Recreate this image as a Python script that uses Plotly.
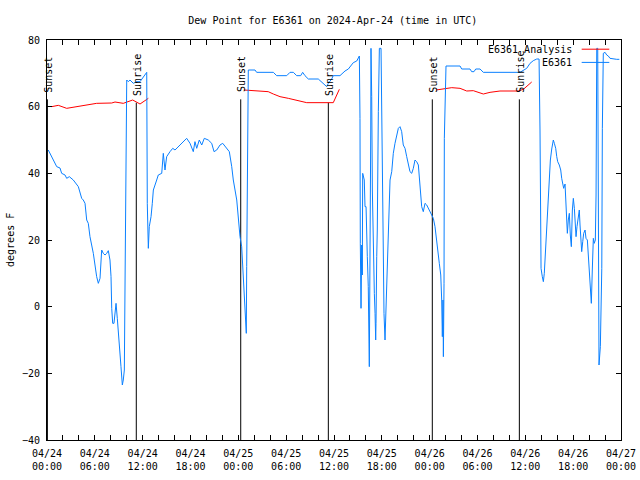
import pandas as pd
import plotly.graph_objects as go

START = pd.Timestamp("2024-04-24 00:00")

# ---- data (hours since 2024-04-24 00:00 UTC, degrees F) ----
obs_hours = [0.16, 0.59, 1.22, 1.63, 1.84, 2.26, 2.47, 2.80, 3.30, 3.93, 4.35, 4.55, 4.77, 4.98, 5.18, 5.39,
             5.81, 6.23, 6.44, 6.65, 6.86, 7.06, 7.28, 7.49, 7.69, 7.90, 8.03, 8.12, 8.24, 8.40, 8.66, 8.82,
             8.99, 9.16, 9.28, 9.45, 9.57, 9.70, 9.78, 9.87, 10.00, 10.20, 10.41, 10.83, 11.25, 11.67, 12.08,
             12.51, 12.58, 12.71, 12.83, 13.05, 13.21, 13.34, 13.76, 13.96, 14.39, 14.59, 14.80, 15.01, 15.43,
             15.77, 16.06, 16.68, 17.31, 17.52, 17.94, 18.35, 18.56, 18.78, 19.10, 19.41, 19.73, 20.23, 20.66,
             20.95, 21.29, 21.70, 22.04, 22.54, 22.87, 23.17, 23.37, 23.80, 24.00, 24.21, 24.42, 24.62, 24.84,
             24.92, 25.00, 25.05, 25.13, 25.25, 26.09, 26.30, 28.39, 28.81, 30.07, 30.48, 30.90, 31.32, 31.82,
             32.07, 32.36, 32.78, 34.03, 35.09, 35.29, 35.71, 35.91, 36.75, 37.38, 37.80, 38.42, 38.85, 39.18,
             39.26, 39.30, 39.39, 39.48, 39.55, 39.60, 39.80, 39.89, 40.02, 40.18, 40.30, 40.43, 40.52, 40.61,
             40.64, 40.73, 40.81, 40.93, 41.06, 41.15, 41.23, 41.27, 41.36, 41.43, 41.56, 41.69, 41.90, 41.99,
             42.11, 42.19, 42.27, 42.40, 42.49, 42.61, 42.81, 42.94, 43.03, 43.24, 43.44, 43.65, 43.87, 44.07,
             44.28, 44.49, 44.69, 44.91, 45.12, 45.32, 45.53, 45.75, 45.95, 46.16, 46.37, 46.58, 46.70, 46.79,
             47.00, 47.20, 47.42, 47.63, 47.83, 48.04, 48.26, 48.46, 48.67, 48.88, 49.08, 49.21, 49.39, 49.51,
             49.59, 49.67, 49.72, 49.80, 49.84, 50.05, 51.81, 52.02, 53.06, 53.27, 53.56, 53.78, 54.32, 54.73,
             59.33, 59.75, 60.17, 60.59, 61.00, 61.43, 61.72, 61.84, 61.90, 61.97, 62.13, 62.26, 62.38, 62.47,
             62.59, 62.68, 62.81, 62.88, 63.01, 63.14, 63.31, 63.51, 63.64, 63.81, 63.94, 64.06, 64.26, 64.44,
             64.56, 64.69, 64.81, 64.98, 65.07, 65.19, 65.27, 65.39, 65.52, 65.64, 65.77, 65.90, 66.02, 66.15,
             66.23, 66.36, 66.48, 66.65, 66.77, 66.86, 66.99, 67.07, 67.20, 67.32, 67.49, 67.61, 67.78, 67.90,
             68.03, 68.20, 68.28, 68.40, 68.53, 68.65, 68.78, 68.87, 68.91, 68.96, 69.08, 69.16, 69.24, 69.41,
             69.59, 69.66, 69.78, 70.00, 70.21, 70.41, 70.62, 71.46, 71.79]
obs_dewpt = [47.0, 45, 42, 41.6, 40, 39.5, 38.5, 39, 38, 36, 32.5, 32, 31, 26, 25, 21,
             16, 9, 7, 8.5, 17, 16, 15.5, 16, 16.8, 14, 9, -0.5, -5, -5, 1, -3.5,
             -8, -13.5, -18, -23.5, -22, -19, 3.5, 47, 68, 67.5, 68, 67, 67.5, 67.5, 69,
             70.3, 31, 17.5, 24, 27, 31, 35, 38, 39.5, 40, 46, 41, 45, 46.5,
             47.5, 47, 48.5, 50, 50.5, 49, 46.5, 49.5, 47.5, 50, 48.5, 50.5, 50, 49,
             46.5, 47, 48.5, 49, 47.5, 46.5, 42, 38, 32, 26, 21, 18, 9, 3,
             -4, -8, 12, 51.5, 71, 71, 70.3, 70.3, 69.3, 69.3, 70.3, 70.3, 69.3, 69.3,
             70.3, 69.3, 68.3, 68.3, 66, 67, 68.3, 69.3, 69.3, 70.7, 71.3, 73.2, 73.7, 75.2,
             56.5, 19, -0.5, 18.5, 9.5, 40, 38, 30, 30, 15, 6, -18, 6, 53,
             77.5, 63, 35, 13, 4, -2, -10, -5, 15, 23, 58.5, 77.5, 77.5, 58.5,
             20, 1, -2, -10, -3, 11, 22.5, 32, 38, 40.5, 46, 49, 51.5, 53.5,
             54, 52.5, 48.5, 47.5, 45, 42.5, 40.5, 40, 41.5, 44, 43.5, 42.5, 39, 35,
             30, 28.5, 31, 30.5, 29.5, 28.5, 27.5, 26.5, 24, 19, 16, 13, 9.5, 2,
             -9, 2, -15, 7, 50.5, 72.2, 72.2, 71.3, 71.3, 70.5, 70.5, 71.3, 71.3, 70.3,
             70.3, 71, 71.5, 73, 73.8, 74.3, 74.3, 53, 28, 11.5, 9, 7.5, 10, 14.5,
             19.5, 24, 29, 33.5, 38.5, 44, 47.3, 50, 49, 47.5, 45, 43.5, 42.5, 41,
             38.5, 36.5, 35.5, 36.8, 33, 25.5, 22, 26, 28, 21.5, 18, 29, 32.5, 29.5,
             24.5, 21, 24, 26.5, 29, 24.5, 18, 16.5, 19.5, 22, 23, 20.5, 20, 16,
             9, 4, 1, 11, 20.5, 19, 20, 33.5, 53, 77.5, 77.5, 6.5, -17.5, -12,
             11.5, 53.5, 76, 76.3, 75.5, 75.2, 74.5, 74.2, 74.2]

ana_hours = [0.59, 1.42, 2.47, 3.73, 5.39, 6.23, 8.12, 8.53, 9.57, 10.75, 11.67, 12.42, 12.71, None,
             24.71, 26.30, 27.75, 28.39, 29.23, 30.27, 31.11, 31.74, 32.58, 35.91, 36.67, None,
             48.80, 50.14, 50.77, 51.81, 52.65, 53.47, 54.32, 54.73, 55.57, 56.20, 56.82, 59.12, 59.75, 60.80]
ana_dewpt = [60.0, 60.4, 59.5, 60.0, 60.5, 61.0, 61.1, 61.4, 61.0, 62.0, 60.8, 62.0, 62.5, None,
             65.0, 64.8, 64.5, 63.8, 63.0, 62.5, 62.0, 61.5, 61.2, 61.2, 65.2, None,
             65.0, 65.5, 65.7, 65.5, 64.7, 64.8, 64.2, 63.8, 64.3, 64.5, 64.7, 64.7, 65.2, 67.4]

sun_hours = [0.05, 11.20, 24.30, 35.29, 48.33, 59.25]
sun_labels = ["Sunset", "Sunrise", "Sunset", "Sunrise", "Sunset", "Sunrise"]
sun_top = [62.2, 61.2, 62.2, 61.2, 62.2, 62.2]

tick_hours = list(range(0, 73, 2))
label_hours = list(range(0, 73, 6))
y_ticks = [-40, -20, 0, 20, 40, 60, 80]

TITLE = "Dew Point for E6361 on 2024-Apr-24 (time in UTC)"
FONT = "DejaVu Sans Mono"
BLUE = "#0a80ff"
RED = "#ff0000"


def to_time(hours):
    return [None if h is None else START + pd.Timedelta(hours=h) for h in hours]


fig = go.Figure()

for h, top in zip(sun_hours, sun_top):
    t = START + pd.Timedelta(hours=h)
    fig.add_trace(go.Scatter(x=[t, t], y=[-40, top], mode="lines",
                             line=dict(color="black", width=1), showlegend=False, hoverinfo="skip"))

fig.add_trace(go.Scatter(x=to_time(ana_hours), y=ana_dewpt, mode="lines", name="E6361 Analysis",
                         line=dict(color=RED, width=1), connectgaps=False, showlegend=False))
fig.add_trace(go.Scatter(x=to_time(obs_hours), y=obs_dewpt, mode="lines", name="E6361",
                         line=dict(color=BLUE, width=1), showlegend=False))

for h, lab, top in zip(sun_hours, sun_labels, sun_top):
    fig.add_annotation(x=START + pd.Timedelta(hours=h), y=top, text=lab, textangle=-90,
                       showarrow=False, xanchor="center", yanchor="bottom", yshift=5, xshift=1,
                       font=dict(family=FONT, size=10, color="black"))

# legend (gnuplot style: text left of sample line)
for name, color, ypos in [("E6361 Analysis", RED, 0.977), ("E6361", BLUE, 0.944)]:
    fig.add_annotation(x=0.918, y=ypos, xref="paper", yref="paper", text=name, showarrow=False,
                       xanchor="right", yanchor="middle", font=dict(family=FONT, size=10, color="black"))
    fig.add_shape(type="line", xref="paper", yref="paper", x0=0.9315, x1=0.9796, y0=ypos, y1=ypos,
                  line=dict(color=color, width=1))

fig.add_annotation(x=-0.0645, y=0.5, xref="paper", yref="paper", text="degrees F", textangle=-90,
                   showarrow=False, xanchor="center", yanchor="middle",
                   font=dict(family=FONT, size=10, color="black"))

tickvals = to_time(tick_hours)
ticktext = []
for h in tick_hours:
    if h in label_hours:
        t = START + pd.Timedelta(hours=h)
        ticktext.append(t.strftime("%m/%d") + "<br>" + t.strftime("%H:%M"))
    else:
        ticktext.append("")

fig.update_layout(
    width=640, height=480,
    margin=dict(l=47, r=19, t=40, b=40, autoexpand=False),
    paper_bgcolor="white", plot_bgcolor="white",
    font=dict(family=FONT, size=10, color="black"),
    title=dict(text=TITLE, x=0.52, xanchor="center", y=1 - 20 / 480, yanchor="middle",
               font=dict(family=FONT, size=10, color="black")),
    showlegend=False,
    xaxis=dict(type="date", range=[START, START + pd.Timedelta(hours=72)],
               tickmode="array", tickvals=tickvals, ticktext=ticktext,
               ticks="inside", ticklen=5, tickcolor="black", tickangle=0,
               showline=True, linecolor="black", linewidth=1, mirror="allticks",
               showgrid=False, zeroline=False, ticklabelstandoff=4, automargin=False),
    yaxis=dict(range=[-40, 80], tickmode="array", tickvals=y_ticks,
               ticks="inside", ticklen=5, tickcolor="black",
               showline=True, linecolor="black", linewidth=1, mirror="allticks",
               showgrid=False, zeroline=False, ticklabelstandoff=4, automargin=False),
)

fig.write_html("out.html", config={"displayModeBar": False},
               post_script="document.body.style.margin='0';document.body.style.overflow='hidden';")
